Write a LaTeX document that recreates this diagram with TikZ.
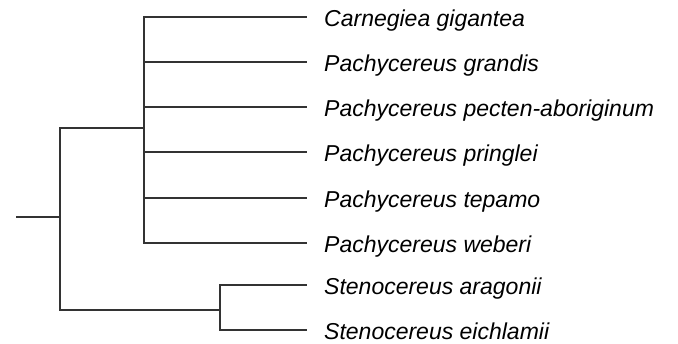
\documentclass[tikz,border=0pt]{standalone}
\usepackage{fontspec}
\setmainfont{Liberation Sans}
\usetikzlibrary{positioning,calc}
\tikzset{
  branch/.style={line width=1.8pt,draw=black!80,line cap=rect},
  taxon/.style={anchor=base west,inner sep=0pt,
                font=\itshape\fontsize{23}{26}\selectfont},
}

\begin{document}
\begin{tikzpicture}[x=1pt,y=-1pt]
  \useasboundingbox (0,0) rectangle (678,344);
  % internal nodes
  \coordinate (root) at (17,217);
  \coordinate (r) at (60,217);
  \coordinate (pa) at (144,128);
  \coordinate (st) at (220,310);
  % tips with their taxa
  \foreach \i/\y/\name in {1/17/Carnegiea gigantea,2/62/Pachycereus grandis,
      3/107/Pachycereus pecten-aboriginum,4/152/Pachycereus pringlei,
      5/198/Pachycereus tepamo,6/243/Pachycereus weberi,
      7/285/Stenocereus aragonii,8/330/Stenocereus eichlamii}{
    \coordinate (t\i) at (306,\y);
    \node[taxon] (n\i) at (324,\y+9.5) {\name};}
  % branches
  \draw[branch] (root) -- (r);
  \draw[branch] (pa) -| (r) |- (st);
  \draw[branch] (t1 -| pa) -- (t6 -| pa);
  \draw[branch] (t7 -| st) -- (t8 -| st);
  \foreach \i in {1,...,6}{\draw[branch] (t\i -| pa) -- (t\i);}
  \foreach \i in {7,8}{\draw[branch] (t\i -| st) -- (t\i);}
\end{tikzpicture}
\end{document}
